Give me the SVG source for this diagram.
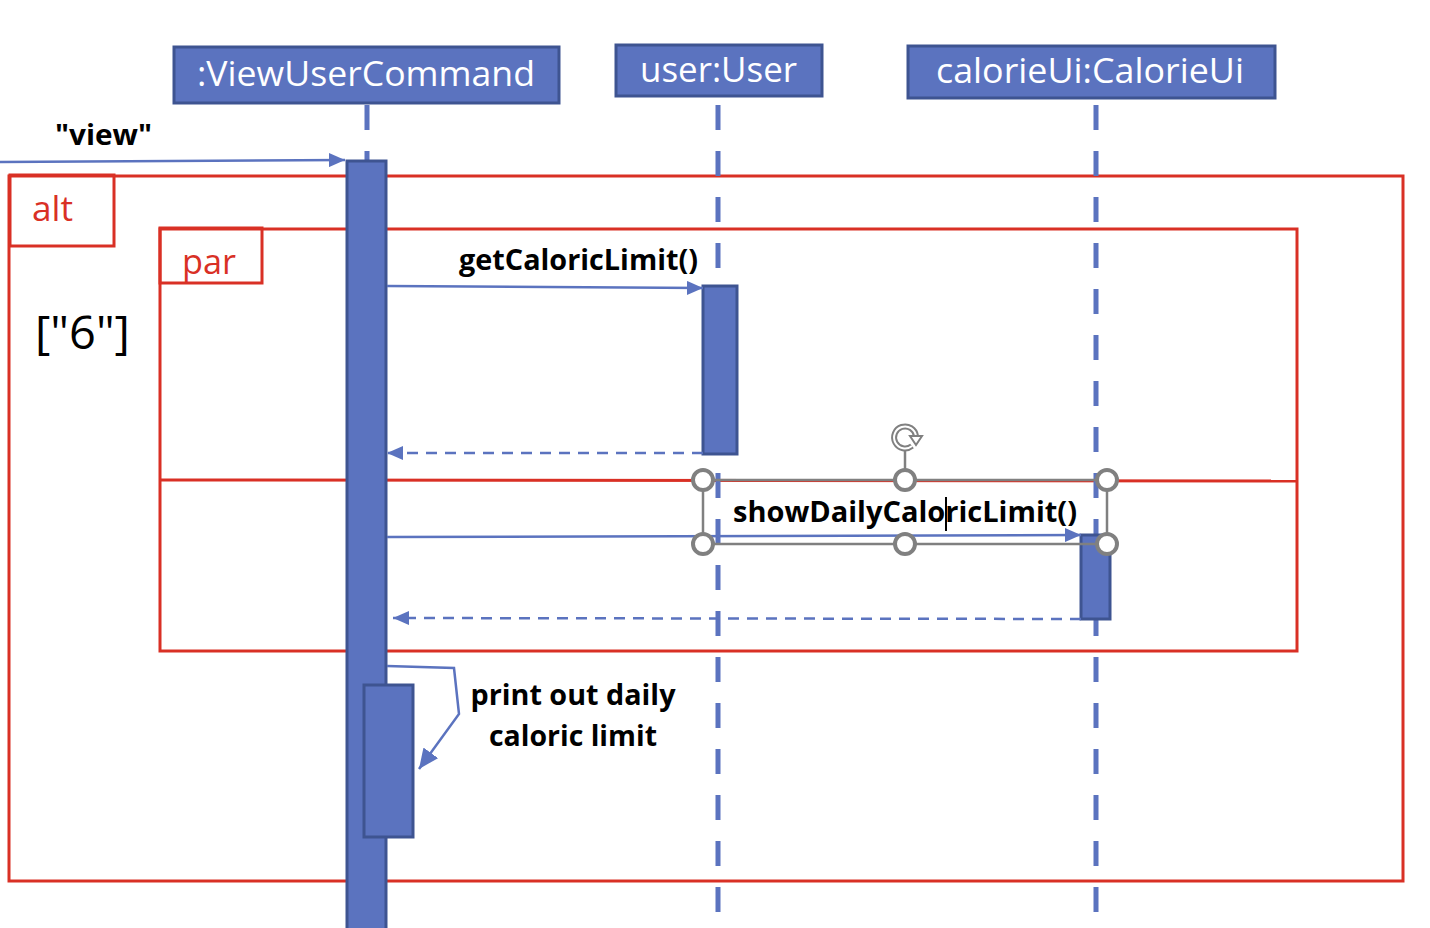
<svg xmlns="http://www.w3.org/2000/svg" width="1430" height="928" viewBox="0 0 1430 928">
<style>
.frame{fill:none;stroke:#D93025;stroke-width:3}
.ftxt{font-family:"Open Sans","Liberation Sans",sans-serif;fill:#D93025;font-size:34px}
.box{fill:#5B73BF;stroke:#3E5491;stroke-width:3}
.btxt{font-family:"Open Sans","Liberation Sans",sans-serif;fill:#FFFFFF;font-size:35px}
.life{stroke:#5B73BF;stroke-width:5;stroke-dasharray:25 21;fill:none}
.act{fill:#5B73BF;stroke:#3E5491;stroke-width:3}
.msg{stroke:#5B73BF;stroke-width:2.5;fill:none}
.ret{stroke:#5B73BF;stroke-width:2.5;fill:none;stroke-dasharray:11 8}
.lbl{font-family:"Open Sans","Liberation Sans",sans-serif;font-weight:bold;fill:#000;font-size:29px}
.sel{fill:none;stroke:#808080;stroke-width:2.5}
.hdl{fill:#FFFFFF;stroke:#808080;stroke-width:4}
</style>
<defs>
<marker id="ah" viewBox="0 0 16 14" refX="16" refY="7" markerWidth="16" markerHeight="14" markerUnits="userSpaceOnUse" orient="auto">
<path d="M0,0 L16,7 L0,14 Z" fill="#5B73BF"/>
</marker>
<marker id="ah2" viewBox="0 0 20 18" refX="20" refY="9" markerWidth="20" markerHeight="18" markerUnits="userSpaceOnUse" orient="auto">
<path d="M0,0 L20,9 L0,18 Z" fill="#5B73BF"/>
</marker>
</defs>
<rect width="1430" height="928" fill="#FFFFFF"/>

<g id="frame-alt">
<rect class="frame" x="9" y="176" width="1394" height="705"/>
<rect class="frame" x="10" y="175" width="104" height="71"/>
<text class="ftxt" x="32" y="221" textLength="41" lengthAdjust="spacingAndGlyphs">alt</text>
<text x="35" y="349" font-family="Open Sans, Liberation Sans, sans-serif" font-size="45" fill="#000" textLength="95" lengthAdjust="spacingAndGlyphs">["6"]</text>
</g>

<g id="frame-par">
<rect class="frame" x="160" y="229" width="1137" height="422"/>
<rect class="frame" x="160" y="228" width="102" height="55"/>
<text class="ftxt" x="182" y="274" textLength="54" lengthAdjust="spacingAndGlyphs">par</text>
<line class="frame" x1="160" y1="480" x2="1297" y2="481"/>
</g>

<g id="node-viewusercommand">
<rect class="box" x="174" y="47" width="385" height="56"/>
<text class="btxt" x="197" y="86" textLength="338" lengthAdjust="spacingAndGlyphs">:ViewUserCommand</text>
<line class="life" x1="367" y1="105" x2="367" y2="160"/>
</g>

<g id="node-user">
<rect class="box" x="616" y="45" width="206" height="51"/>
<text class="btxt" x="640" y="82" textLength="157" lengthAdjust="spacingAndGlyphs">user:User</text>
<line class="life" x1="718" y1="105" x2="718" y2="912"/>
</g>

<g id="node-calorieui">
<rect class="box" x="908" y="46" width="367" height="52"/>
<text class="btxt" x="936" y="83" textLength="308" lengthAdjust="spacingAndGlyphs">calorieUi:CalorieUi</text>
<line class="life" x1="1096" y1="105" x2="1096" y2="912"/>
</g>

<g id="activations">
<rect class="act" x="347" y="161" width="39" height="770"/>
<rect class="act" x="703" y="286" width="34" height="168"/>
<rect class="act" x="1081" y="535" width="29" height="84"/>
<rect class="act" x="364" y="685" width="49" height="152"/>
</g>

<g id="connectors">
<line class="msg" x1="0" y1="162" x2="345" y2="160" marker-end="url(#ah)"/>
<line class="msg" x1="387" y1="286" x2="703" y2="288" marker-end="url(#ah)"/>
<line class="ret" x1="703" y1="453" x2="387" y2="453" marker-end="url(#ah)"/>
<line class="msg" x1="387" y1="537" x2="1081" y2="535" marker-end="url(#ah)"/>
<line class="ret" x1="1081" y1="619" x2="393" y2="618" marker-end="url(#ah)"/>
<polyline class="msg" points="387,666 454,668 459,714 419,769" marker-end="url(#ah2)"/>
</g>

<g id="labels">
<text class="lbl" x="55" y="145" font-size="27" textLength="97" lengthAdjust="spacingAndGlyphs">"view"</text>
<text class="lbl" x="459" y="270" textLength="239" lengthAdjust="spacingAndGlyphs">getCaloricLimit()</text>
<text class="lbl" x="733" y="522" textLength="344" lengthAdjust="spacingAndGlyphs">showDailyCaloricLimit()</text>
<text class="lbl" x="573" y="705" text-anchor="middle" textLength="205" lengthAdjust="spacingAndGlyphs">print out daily</text>
<text class="lbl" x="573" y="746" text-anchor="middle" textLength="168" lengthAdjust="spacingAndGlyphs">caloric limit</text>
</g>

<g id="selection">
<rect class="sel" x="703" y="480" width="404" height="64"/>
<line class="sel" x1="905" y1="469" x2="905" y2="450"/>
<path d="M912,446 A11,11 0 1 1 916,436" fill="none" stroke="#808080" stroke-width="6"/>
<path d="M912,446 A11,11 0 1 1 916,436" fill="none" stroke="#FFFFFF" stroke-width="2"/>
<path d="M910,436 L922,436 L916,445 Z" fill="#FFFFFF" stroke="#808080" stroke-width="2"/>
<circle class="hdl" cx="703" cy="480" r="10"/>
<circle class="hdl" cx="905" cy="480" r="10"/>
<circle class="hdl" cx="1107" cy="480" r="10"/>
<circle class="hdl" cx="703" cy="544" r="10"/>
<circle class="hdl" cx="905" cy="544" r="10"/>
<circle class="hdl" cx="1107" cy="544" r="10"/>
<line x1="946" y1="497" x2="946" y2="531" stroke="#000" stroke-width="2"/>
</g>
</svg>
